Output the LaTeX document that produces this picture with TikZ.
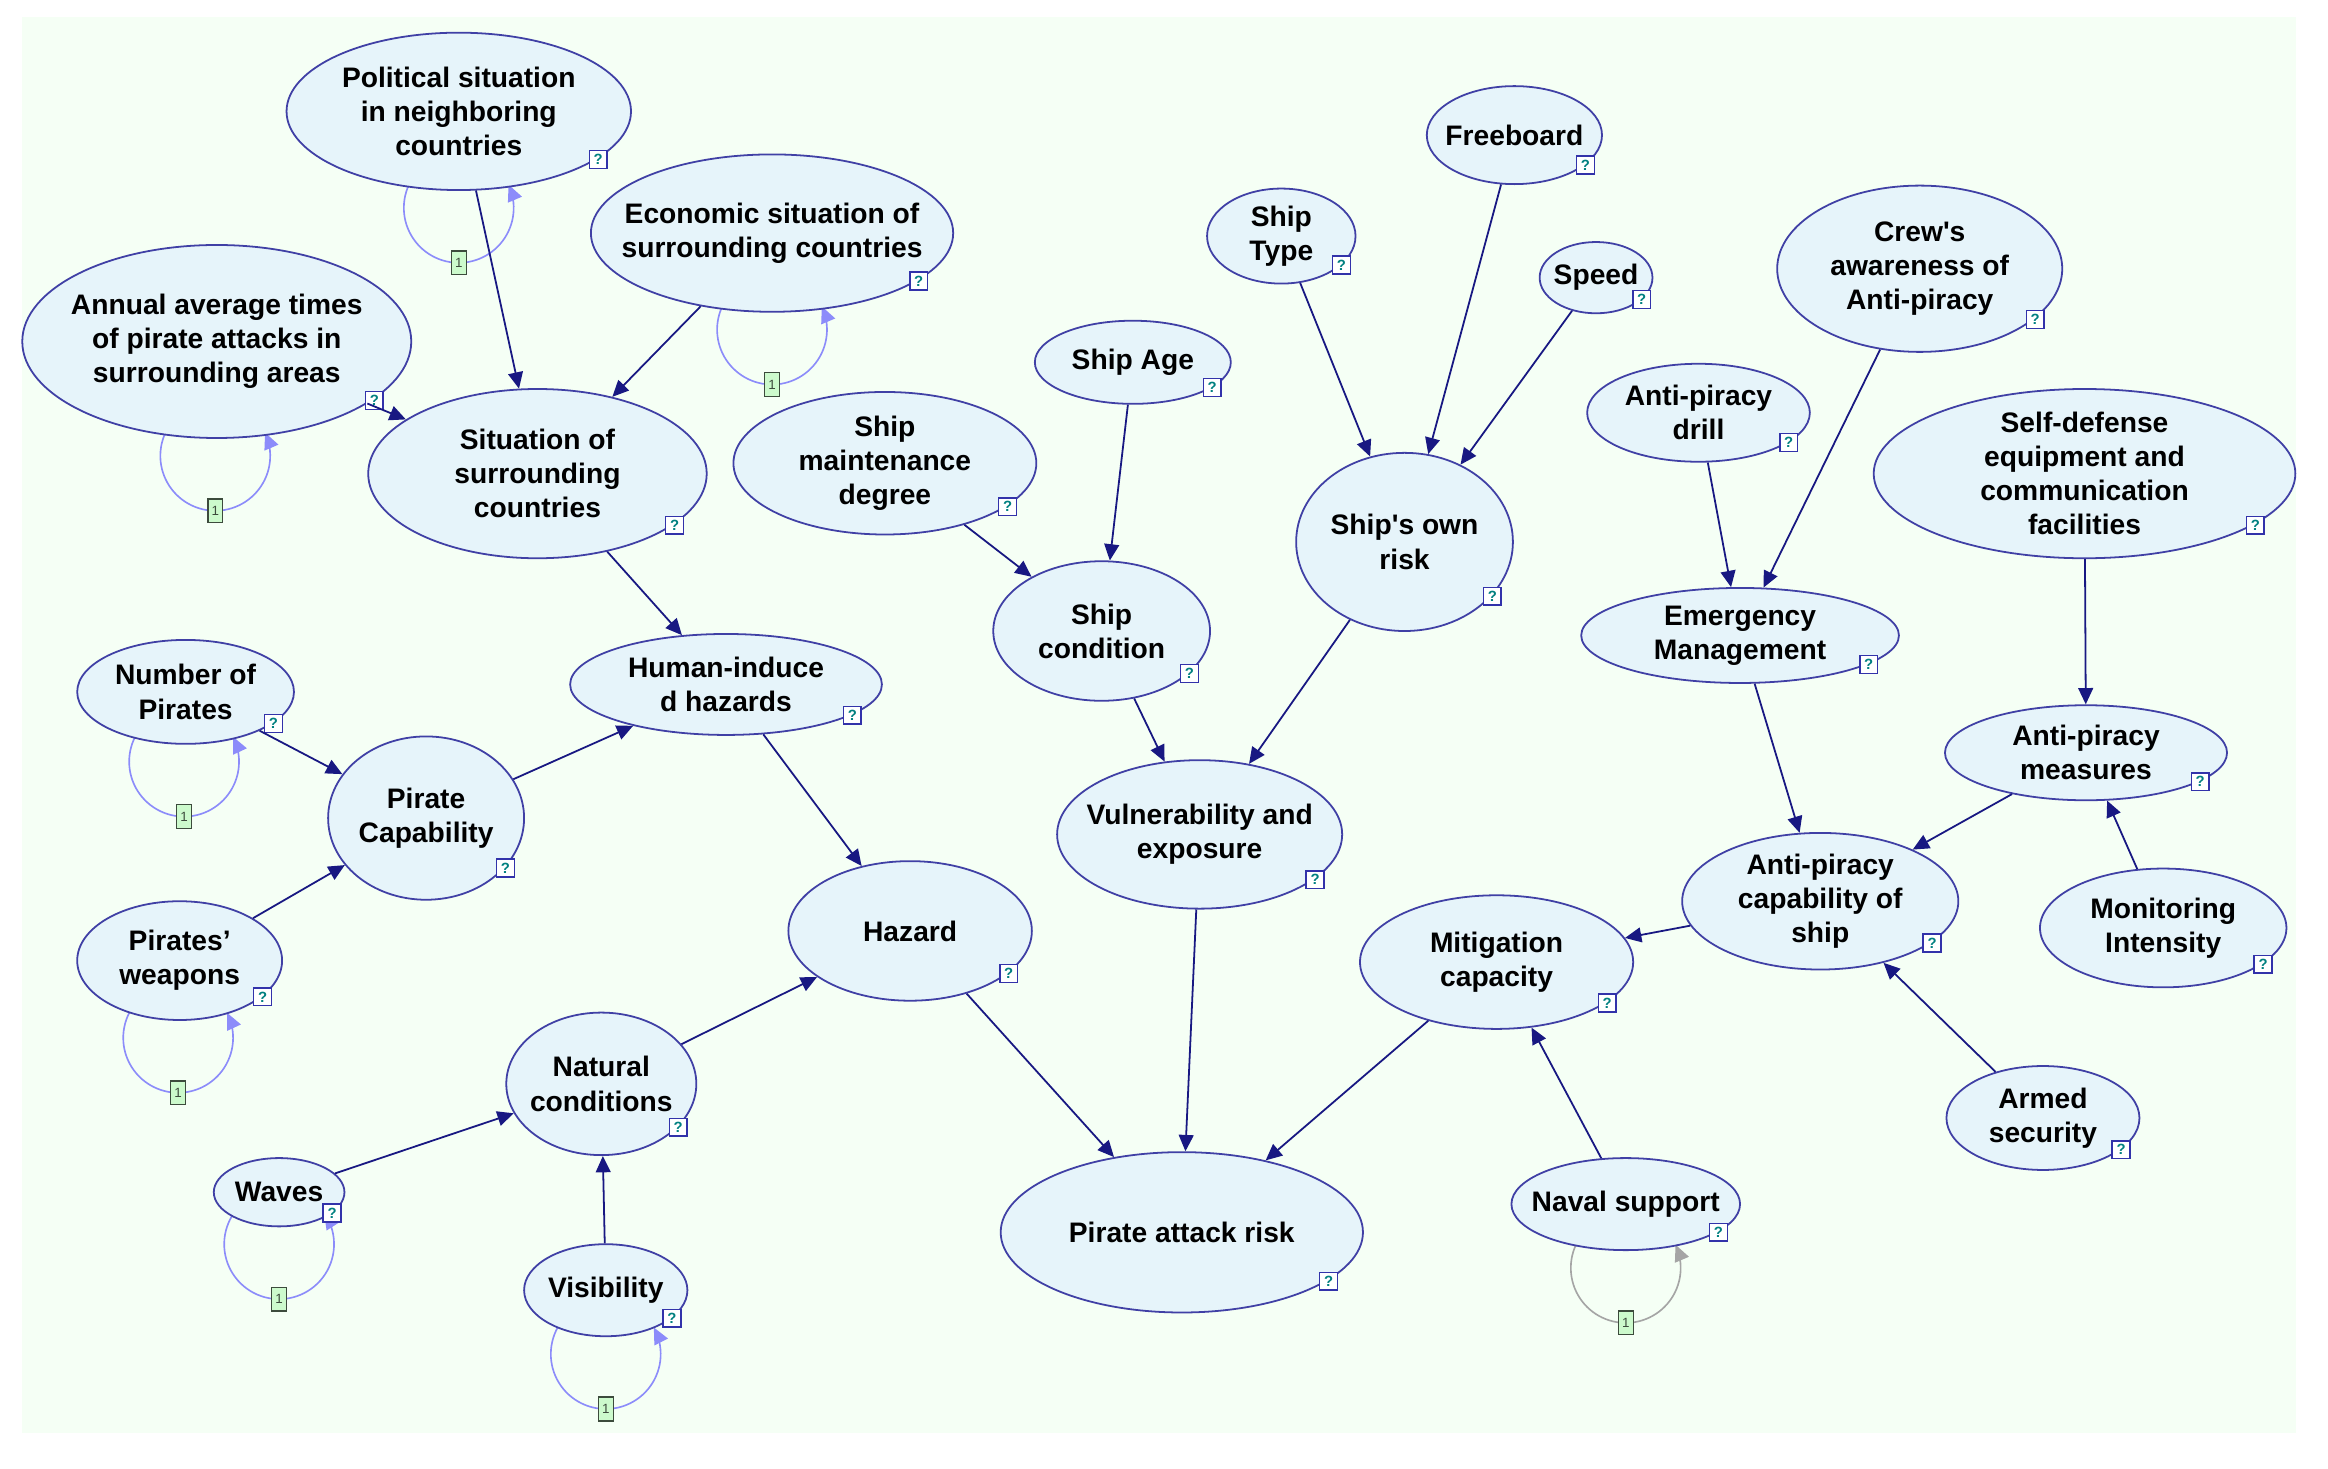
\documentclass[tikz,border=0pt]{standalone}
\usepackage{fontspec}
\setmainfont{Liberation Sans}
\usetikzlibrary{arrows.meta,shapes.geometric}
\definecolor{bgc}{RGB}{245,255,245}
\definecolor{ellf}{RGB}{230,244,250}
\definecolor{elld}{RGB}{64,64,165}
\definecolor{edgec}{RGB}{24,24,130}
\definecolor{loopc}{RGB}{140,140,250}
\definecolor{loopg}{RGB}{165,165,165}
\definecolor{qc}{RGB}{50,50,170}
\definecolor{qt}{RGB}{0,128,128}
\definecolor{onef}{RGB}{204,250,204}
\definecolor{oned}{RGB}{60,75,60}
\tikzset{
  ell/.style={ellipse, draw=elld, fill=ellf, line width=1.2pt, inner sep=0pt},
  txt/.style={align=center, font=\bfseries\fontsize{19}{23}\selectfont, inner sep=0pt, text=black},
  qbox/.style={draw=qc, fill=white, line width=1pt, minimum size=12pt, inner sep=0pt,
    font=\bfseries\fontsize{10}{10}\selectfont, text=qt},
  onebox/.style={draw=oned, fill=onef, line width=0.9pt, minimum width=10pt, minimum height=16pt,
    inner sep=0pt, font=\fontsize{9}{9}\selectfont, text=oned},
  edge/.style={draw=edgec, line width=1.2pt, -{Triangle[length=11pt,width=10pt]}},
  lpl/.style={draw=loopc, line width=1.1pt, {Triangle[length=11pt,width=10pt]}-},
}
\newcommand\bn[6]{%
  \node[ell, minimum width={2*#4}, minimum height={2*#5}] (#1) at (#2,#3) {};
  \node[txt] (#1-t) at (#1.center) {#6};
  \node[qbox] (#1-q) at ({#2+0.81*#4},{#3+0.61*#5}) {?};
}
% loop: name, cx, bottom y, angle, colour
\newcommand\lp[5]{%
  \draw[lpl, draw=#5] plot[domain={-#4}:{180+#4}, samples=60] ({#2+37*cos(\x)},{#3+12+37*sin(\x)});
  \node[onebox] (#1-one) at (#2,{#3+49}) {1};
}
\begin{document}
\begin{tikzpicture}[x=1pt,y=-1pt]
\useasboundingbox (0,0) rectangle (1568,989);
\fill[bgc] (14.8,11.5) rectangle (1546.4,965.2);

% self loops
\lp{pol}{309}{128}{25}{loopc}
\lp{eco}{520}{210}{25}{loopc}
\lp{ann}{145}{295}{25}{loopc}
\lp{num}{124}{501}{27}{loopc}
\lp{weap}{120}{687}{27}{loopc}
\lp{wav}{188}{826}{35}{loopc}
\lp{vis}{408}{900}{29}{loopc}
\lp{naval}{1095}{842}{25}{loopg}

% nodes
\bn{pol}{309}{75}{116}{53}{Political situation\\in neighboring\\countries}
\bn{eco}{520}{157}{122}{53}{Economic situation of\\surrounding countries}
\bn{ann}{146}{230}{131}{65}{Annual average times\\of pirate attacks in\\surrounding areas}
\bn{sit}{362}{319}{114}{57}{Situation of\\surrounding\\countries}
\bn{age}{763}{244}{66}{28}{Ship Age}
\bn{mnt}{596}{312}{102}{48}{Ship\\maintenance\\degree}
\bn{typ}{863}{159}{50}{32}{Ship\\Type}
\bn{frb}{1020}{91}{59}{33}{Freeboard}
\bn{spd}{1075}{187}{38}{24}{Speed}
\bn{own}{946}{365}{73}{60}{Ship\textquotesingle s own\\risk}
\bn{cond}{742}{425}{73}{47}{Ship\\condition}
\bn{crew}{1293}{181}{96}{56}{Crew\textquotesingle s\\awareness of\\Anti-piracy}
\bn{drill}{1144}{278}{75}{33}{Anti-piracy\\drill}
\bn{selfd}{1404}{319}{142}{57}{Self-defense\\equipment and\\communication\\facilities}
\bn{emg}{1172}{428}{107}{32}{Emergency\\Management}
\bn{meas}{1405}{507}{95}{32}{Anti-piracy\\measures}
\bn{mon}{1457}{625}{83}{40}{Monitoring\\Intensity}
\bn{capab}{1226}{607}{93}{46}{Anti-piracy\\capability of\\ship}
\bn{armed}{1376}{753}{65}{35}{Armed\\security}
\bn{mit}{1008}{648}{92}{45}{Mitigation\\capacity}
\bn{naval}{1095}{811}{77}{31}{Naval support}
\bn{risk}{796}{830}{122}{54}{Pirate attack risk}
\bn{vul}{808}{562}{96}{50}{Vulnerability and\\exposure}
\bn{haz}{613}{627}{82}{47}{Hazard}
\bn{hum}{489}{461}{105}{34}{Human-induce\\d hazards}
\bn{num}{125}{466}{73}{35}{Number of\\Pirates}
\bn{pcap}{287}{551}{66}{55}{Pirate\\Capability}
\bn{weap}{121}{647}{69}{40}{Pirates’\\weapons}
\bn{nat}{405}{730}{64}{48}{Natural\\conditions}
\bn{wav}{188}{803}{44}{23}{Waves}
\bn{vis}{408}{869}{55}{31}{Visibility}

% edges
\draw[edge] (pol) -- (sit);
\draw[edge] (eco) -- (sit);
\draw[edge] (ann) -- (sit);
\draw[edge] (sit) -- (hum);
\draw[edge] (num) -- (pcap);
\draw[edge] (weap) -- (pcap);
\draw[edge] (pcap) -- (hum);
\draw[edge] (hum) -- (haz);
\draw[edge] (nat) -- (haz);
\draw[edge] (wav) -- (nat);
\draw[edge] (vis) -- (nat);
\draw[edge] (haz) -- (risk);
\draw[edge] (mnt) -- (cond);
\draw[edge] (age) -- (cond);
\draw[edge] (cond) -- (vul);
\draw[edge] (typ) -- (own);
\draw[edge] (frb) -- (own);
\draw[edge] (spd) -- (own);
\draw[edge] (own) -- (vul);
\draw[edge] (vul) -- (risk);
\draw[edge] (mit) -- (risk);
\draw[edge] (capab) -- (mit);
\draw[edge] (naval) -- (mit);
\draw[edge] (emg) -- (capab);
\draw[edge] (drill) -- (emg);
\draw[edge] (crew) -- (emg);
\draw[edge] (selfd) -- (meas);
\draw[edge] (mon) -- (meas);
\draw[edge] (meas) -- (capab);
\draw[edge] (armed) -- (capab);
\end{tikzpicture}
\end{document}
